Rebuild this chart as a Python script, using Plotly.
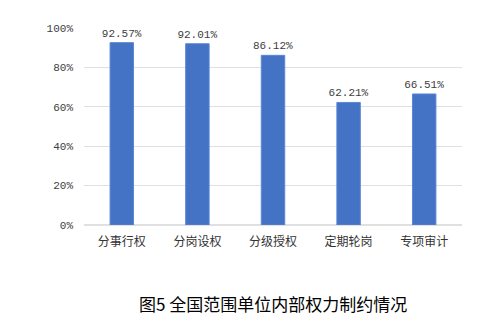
import plotly.graph_objects as go

categories = ["分事行权", "分岗设权", "分级授权", "定期轮岗", "专项审计"]
values = [0.9257, 0.9201, 0.8612, 0.6221, 0.6651]
labels = ["92.57%", "92.01%", "86.12%", "62.21%", "66.51%"]
tick_vals = [0, 0.2, 0.4, 0.6, 0.8, 1.0]
tick_text = ["0%", "20%", "40%", "60%", "80%", "100%"]
title_text = "图5 全国范围单位内部权力制约情况"

fig = go.Figure(go.Bar(
    x=categories, y=values, text=labels, textposition="outside",
    constraintext="none",
    textfont=dict(family="Liberation Mono", size=11, color="#404040"),
    marker=dict(color="#4472C4", line=dict(color="#5B86D6", width=1)),
    cliponaxis=False, width=0.31,
))
fig.update_layout(
    width=498, height=317, margin=dict(l=84, r=36, t=28, b=92),
    paper_bgcolor="white", plot_bgcolor="white", showlegend=False,
    font=dict(family="Noto Sans CJK SC", color="#404040"),
    xaxis=dict(tickfont=dict(family="Noto Sans CJK SC", size=12, color="#333333"),
               showline=False, ticks="", ticklabelstandoff=8),
    yaxis=dict(range=[0, 1.0], tickvals=tick_vals, ticktext=tick_text,
               tickfont=dict(family="Liberation Mono", size=11, color="#404040"),
               showgrid=True, gridcolor="#E0E0E0", gridwidth=1, zeroline=True,
               zerolinecolor="#E0E0E0", ticklabelstandoff=10, showline=False),
)
fig.add_annotation(text=title_text, xref="paper", yref="paper", x=0.5,
                   y=-(303 - 225) / 197, xanchor="center", yanchor="middle",
                   showarrow=False,
                   font=dict(family="Noto Sans CJK SC", size=17, color="black"))
fig.write_html("out.html")
